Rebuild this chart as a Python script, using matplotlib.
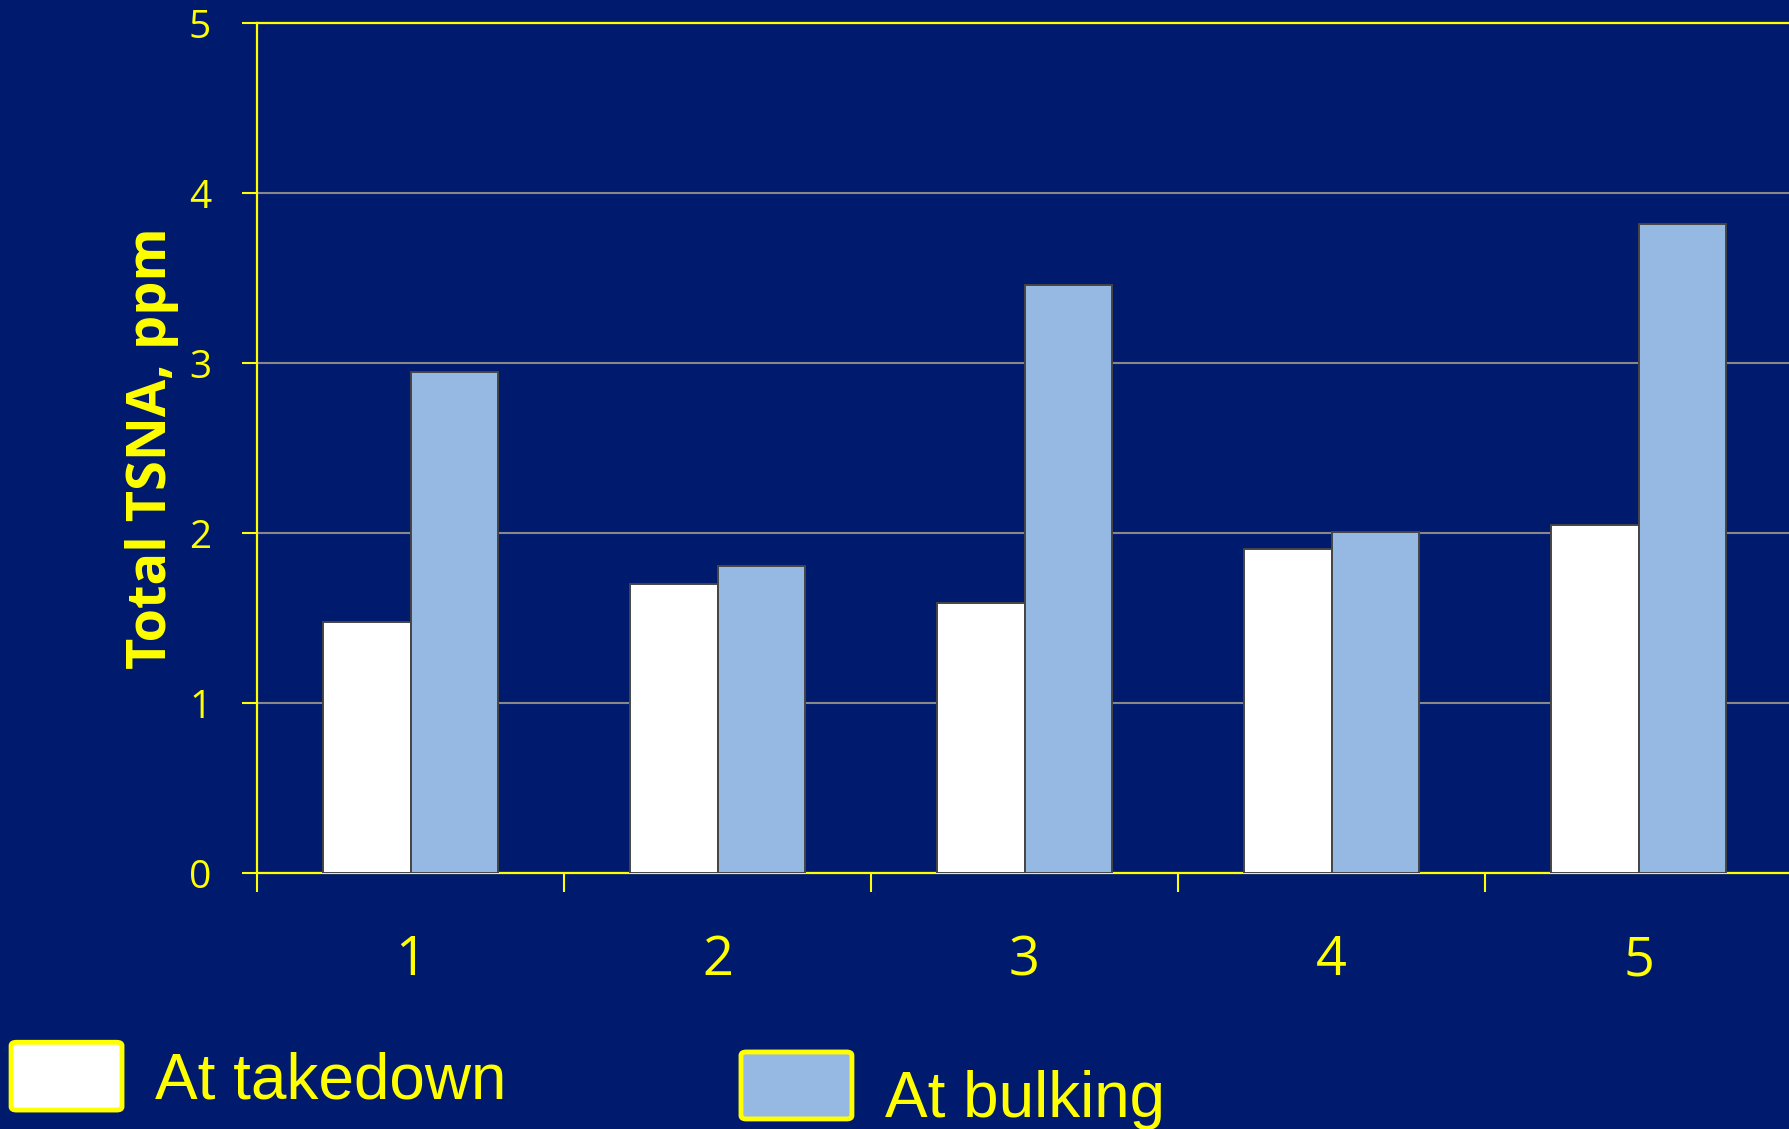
import matplotlib
matplotlib.use("Agg")
import matplotlib.pyplot as plt
import numpy as np
from matplotlib.patches import FancyBboxPatch

categories = ["1", "2", "3", "4", "5"]
series_names = ["At takedown", "At bulking"]
takedown = [1.48, 1.70, 1.59, 1.91, 2.05]
bulking = [2.95, 1.81, 3.46, 2.01, 3.82]
yticks = [0, 1, 2, 3, 4, 5]

BG = "#001A6E"
YEL = "#FFFF00"
BLUE = "#95B9E3"
EDGE = "#454545"

fig = plt.figure(figsize=(17.89, 11.29), dpi=100)
fig.patch.set_facecolor(BG)
ax = fig.add_axes([0.1437, 0.2265, 0.8580, 0.7529])
ax.set_facecolor(BG)

x = np.arange(len(categories))
w = 0.284
ax.bar(x - w / 2, takedown, w, color="white", edgecolor=EDGE, linewidth=1.4, zorder=3)
ax.bar(x + w / 2, bulking, w, color=BLUE, edgecolor=EDGE, linewidth=1.4, zorder=3)

ax.set_xlim(-0.5, len(categories) - 0.5)
ax.set_ylim(0, 5)
ax.set_yticks(yticks)
ax.set_yticklabels([str(v) for v in yticks])
ax.yaxis.grid(True, color="#888888", linewidth=1.5, zorder=0)
ax.set_axisbelow(True)

# x ticks at category boundaries, labels centered
ax.set_xticks(np.arange(len(categories) + 1) - 0.5)
ax.set_xticklabels([])
ax.set_xticks(x, minor=True)
ax.set_xticklabels(categories, minor=True)
ax.tick_params(axis="x", which="major", length=14, width=1.5, color=YEL, direction="out")
ax.tick_params(axis="x", which="minor", length=0, pad=43, labelsize=39, labelcolor=YEL)
ax.tick_params(axis="y", length=11, width=1.5, color=YEL, pad=22, labelsize=28, labelcolor=YEL)
for lab in ax.get_xticklabels(minor=True) + ax.get_yticklabels():
    lab.set_fontfamily("Open Sans")

for s in ["left", "bottom", "top"]:
    ax.spines[s].set_color(YEL)
    ax.spines[s].set_linewidth(1.6)
ax.spines["right"].set_visible(False)

ax.set_ylabel("Total TSNA, ppm", fontsize=39, fontweight="bold", color=YEL,
              fontfamily="Open Sans")
ax.yaxis.set_label_coords(-0.051, 0.5)

# Manual legend
leg_items = [
    (series_names[0], "white", 0.0062, 0.0168, 0.0620, 0.0600, 0.0866, 0.0266),
    (series_names[1], BLUE, 0.4142, 0.0089, 0.0620, 0.0593, 0.4947, 0.0106),
]
for name, col, bx, by, bw, bh, tx, ty in leg_items:
    p = FancyBboxPatch((bx, by), bw, bh, boxstyle="round,pad=0,rounding_size=0.003",
                       transform=fig.transFigure, facecolor=col, edgecolor=YEL,
                       linewidth=3.5)
    fig.add_artist(p)
    fig.text(tx, ty, name, fontsize=46, color=YEL, fontfamily="Liberation Sans",
             va="baseline", ha="left")

fig.savefig("out.png", dpi=100, facecolor=BG)
